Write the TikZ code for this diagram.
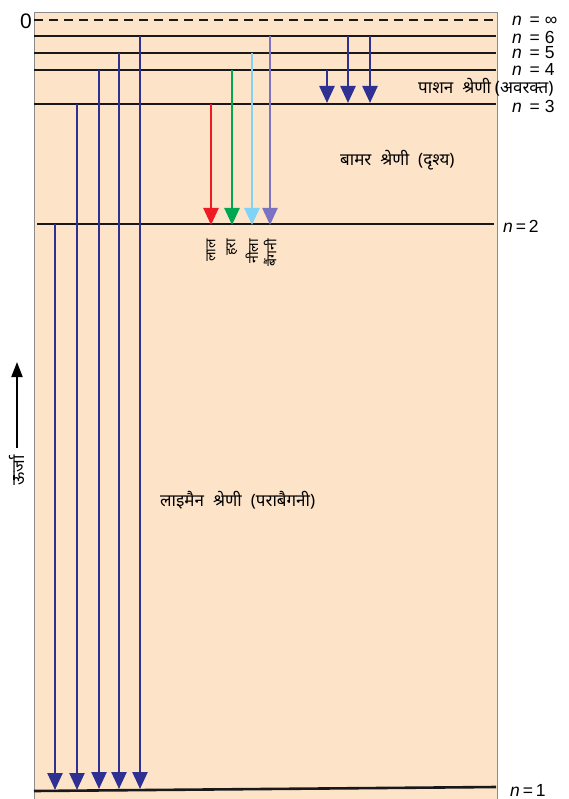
\documentclass[tikz,border=0pt]{standalone}
\usepackage{fontspec}
\setmainfont{Liberation Sans}
\newfontfamily\dev[Script=Devanagari]{Noto Sans}
\usetikzlibrary{arrows.meta}
\definecolor{peach}{HTML}{FDE4C9}
\definecolor{dblue}{HTML}{2E3192}
\definecolor{lred}{HTML}{ED1C24}
\definecolor{lgreen}{HTML}{00A651}
\definecolor{lblue}{HTML}{7FD3F7}
\definecolor{lviolet}{HTML}{7B73C2}
\newcommand{\ws}{\hspace{9pt}}
\begin{document}
\begin{tikzpicture}[x=1pt,y=-1pt,
  level/.style={line width=2.6pt,black!90},
  trans/.style={line width=2.5pt,-{Triangle[length=17pt,width=15pt]}},
  lab/.style={anchor=west,inner sep=0pt,font=\fontsize{17.5}{17.5}\selectfont},
  dlab/.style={inner sep=0pt,font=\dev\fontsize{17}{17}\selectfont},
  vlab/.style={rotate=90,anchor=east,inner sep=0pt,font=\dev\fontsize{14}{14}\selectfont}]
\useasboundingbox (0,0) rectangle (569,799);
\fill[peach] (34,12) rectangle (497,799);
\draw[black!45,line width=0.6pt] (34,799) -- (34,12) -- (497,12) -- (497,799);
% level end points
\coordinate (i1) at (34,20);  \coordinate (i2) at (496,20);
\coordinate (s1) at (34,36);  \coordinate (s2) at (496,36);
\coordinate (f1) at (34,53);  \coordinate (f2) at (496,53);
\coordinate (q1) at (34,70);  \coordinate (q2) at (496,70);
\coordinate (t1) at (34,104); \coordinate (t2) at (496,104);
\coordinate (d1) at (37,224); \coordinate (d2) at (494,224);
\coordinate (o1) at (34,791); \coordinate (o2) at (496,787);
\draw[level,dashed,dash pattern=on 9pt off 6pt] (i1) -- (i2);
\draw[level] (s1) -- (s2);
\draw[level] (f1) -- (f2);
\draw[level] (q1) -- (q2);
\draw[level] (t1) -- (t2);
\draw[level] (d1) -- (d2);
\draw[level] (o1) -- (o2);
% level labels
\node[lab] (ninf) at (512,21) {\itshape n\upshape\,\ = ∞};
\node[lab] (n6) at (512,37) {\itshape n\upshape\,\ = 6};
\node[lab] (n5) at (512,53) {\itshape n\upshape\,\ = 5};
\node[lab] (n4) at (512,69) {\itshape n\upshape\,\ = 4};
\node[lab] (n3) at (512,106) {\itshape n\upshape\,\ = 3};
\node[lab] (n2) at (503,226) {\itshape n\upshape\,=\,2};
\node[lab] (n1) at (510,790) {\itshape n\upshape\,=\,1};
\node[lab,anchor=center,font=\fontsize{21}{21}\selectfont] (zero) at (26,21) {0};
% Lyman series
\coordinate (ly1a) at (55,224);  \coordinate (ly1b) at (55,790);
\coordinate (ly2a) at (77,104);  \coordinate (ly2b) at (77,790);
\coordinate (ly3a) at (99,70);   \coordinate (ly3b) at (99,789);
\coordinate (ly4a) at (119,53);  \coordinate (ly4b) at (119,789);
\coordinate (ly5a) at (140,36);  \coordinate (ly5b) at (140,789);
\foreach \k in {1,...,5}{\draw[trans,dblue] (ly\k a) -- (ly\k b);}
% Balmer series
\coordinate (ba1a) at (211,104); \coordinate (ba1b) at (211,225);
\coordinate (ba2a) at (232,70);  \coordinate (ba2b) at (232,225);
\coordinate (ba3a) at (252,53);  \coordinate (ba3b) at (252,225);
\coordinate (ba4a) at (270,36);  \coordinate (ba4b) at (270,225);
\draw[trans,lred] (ba1a) -- (ba1b);
\draw[trans,lgreen] (ba2a) -- (ba2b);
\draw[trans,lblue] (ba3a) -- (ba3b);
\draw[trans,lviolet] (ba4a) -- (ba4b);
\node[vlab] (red) at (211,239) {लाल};
\node[vlab] (green) at (232,239) {हरा};
\node[vlab] (blue) at (252,239) {नीला};
\node[vlab] (violet) at (270,239) {बैंगनी};
% Paschen series
\coordinate (pa1a) at (327,70); \coordinate (pa1b) at (327,103);
\coordinate (pa2a) at (348,36); \coordinate (pa2b) at (348,103);
\coordinate (pa3a) at (370,36); \coordinate (pa3b) at (370,103);
\foreach \k in {1,2,3}{\draw[trans,dblue] (pa\k a) -- (pa\k b);}
% series names
\node[dlab,anchor=west] (pash) at (418,87) {पाशन\ws श्रेणी\hspace{4pt}(अवरक्त)};
\node[dlab,anchor=west] (balm) at (340,160) {बामर\ws श्रेणी\ws (दृश्य)};
\node[dlab,anchor=west] (lym) at (160,500) {लाइमैन\ws श्रेणी\ws (पराबैगनी)};
% energy axis
\coordinate (ea) at (17,448); \coordinate (eb) at (17,362);
\draw[line width=2pt,-{Triangle[length=15pt,width=11pt]}] (ea) -- (eb);
\node[vlab,font=\dev\fontsize{17}{17}\selectfont] (energy) at (17,455) {ऊर्जा};
\end{tikzpicture}
\end{document}
